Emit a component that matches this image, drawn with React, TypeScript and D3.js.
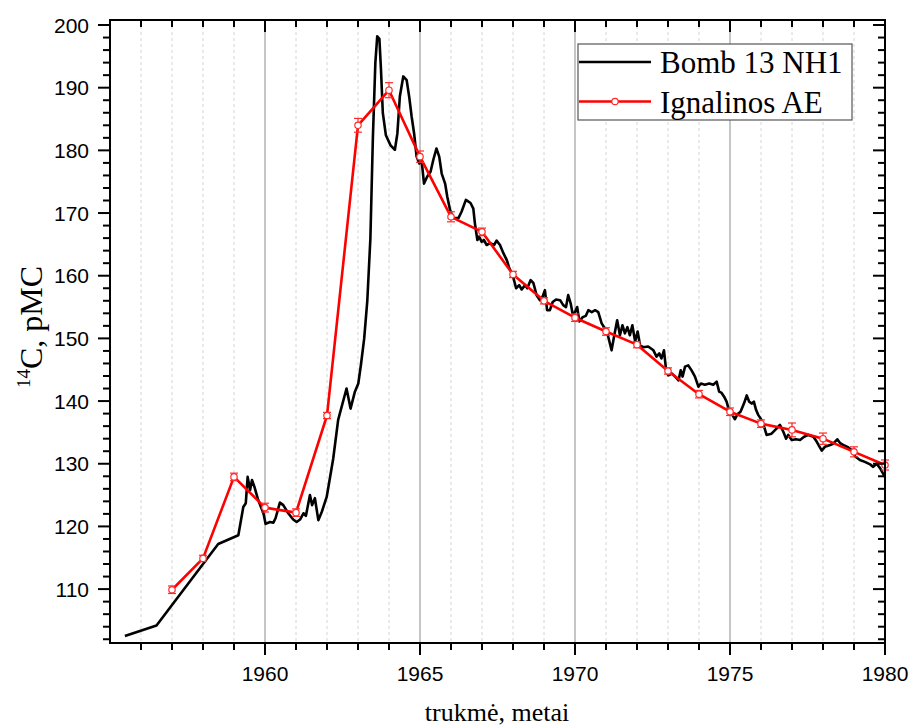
import React from "react";
import * as d3 from "d3";

// Bomb 13 NH1 series (year, pMC)
const bombYears = [
  1955.48, 1956.5, 1958.49, 1959.14, 1959.3, 1959.38, 1959.44, 1959.52, 1959.58, 1959.66, 1959.78, 1959.95,
  1960.02, 1960.16, 1960.27, 1960.34, 1960.48, 1960.59, 1960.75, 1960.91, 1961.02, 1961.13, 1961.24, 1961.32,
  1961.45, 1961.52, 1961.61, 1961.72, 1961.83, 1961.99, 1962.1, 1962.2, 1962.36, 1962.63, 1962.76, 1962.9,
  1963.01, 1963.1, 1963.2, 1963.3, 1963.4, 1963.48, 1963.56, 1963.62, 1963.69, 1963.74, 1963.8, 1963.9,
  1964.05, 1964.19, 1964.27, 1964.35, 1964.46, 1964.57, 1964.65, 1964.73, 1964.81, 1964.89, 1964.98, 1965.05,
  1965.13, 1965.23, 1965.34, 1965.43, 1965.53, 1965.62, 1965.7, 1965.81, 1965.88, 1965.97, 1966.07, 1966.24,
  1966.34, 1966.48, 1966.63, 1966.72, 1966.77, 1966.85, 1966.91, 1966.99, 1967.06, 1967.15, 1967.26, 1967.39,
  1967.47, 1967.58, 1967.69, 1967.8, 1967.88, 1967.99, 1968.1, 1968.2, 1968.28, 1968.39, 1968.46, 1968.57,
  1968.66, 1968.76, 1968.87, 1968.95, 1969.03, 1969.1, 1969.19, 1969.28, 1969.39, 1969.52, 1969.62, 1969.71,
  1969.78, 1969.86, 1969.92, 1970.0, 1970.07, 1970.14, 1970.25, 1970.35, 1970.43, 1970.54, 1970.65, 1970.75,
  1970.86, 1971.0, 1971.07, 1971.18, 1971.26, 1971.36, 1971.45, 1971.53, 1971.61, 1971.69, 1971.77, 1971.85,
  1971.94, 1972.02, 1972.1, 1972.2, 1972.36, 1972.53, 1972.63, 1972.72, 1972.79, 1972.87, 1972.94, 1973.01,
  1973.12, 1973.23, 1973.34, 1973.41, 1973.47, 1973.55, 1973.65, 1973.76, 1973.87, 1973.98, 1974.06, 1974.19,
  1974.33, 1974.46, 1974.57, 1974.65, 1974.73, 1974.81, 1974.89, 1974.98, 1975.05, 1975.16, 1975.24, 1975.34,
  1975.45, 1975.54, 1975.62, 1975.7, 1975.77, 1975.84, 1975.91, 1975.99, 1976.07, 1976.18, 1976.34, 1976.5,
  1976.61, 1976.72, 1976.81, 1976.88, 1976.99, 1977.13, 1977.26, 1977.39, 1977.53, 1977.69, 1977.8, 1977.89,
  1977.96, 1978.06, 1978.23, 1978.33, 1978.46, 1978.55, 1978.65, 1978.82, 1978.92, 1979.03, 1979.19, 1979.35,
  1979.52, 1979.62, 1979.73, 1979.84, 1979.93, 1980.0,
];
const bombValues = [
  102.5, 104.2, 117.2, 118.6, 123.1, 123.7, 127.9, 125.8, 127.4, 126.3, 124.2, 122.1,
  120.4, 120.7, 120.6, 121.3, 123.8, 123.4, 122.1, 121.1, 120.7, 121.1, 122.1, 121.7,
  125.0, 123.4, 124.5, 121.0, 122.3, 124.7, 127.9, 130.8, 137.0, 142.0, 138.8, 141.5,
  142.8, 146.0, 150.0, 156.0, 166.0, 182.0, 194.0, 198.2, 197.8, 193.0, 186.0, 182.4,
  180.8, 180.1, 182.7, 188.6, 191.8, 191.2, 188.6, 185.4, 182.7, 179.0, 177.9, 178.5,
  174.7, 175.8, 176.6, 178.5, 180.3, 179.0, 176.3, 174.7, 172.6, 170.5, 169.2, 169.2,
  170.2, 172.1, 171.6, 170.7, 168.4, 165.7, 166.2, 165.4, 165.7, 164.9, 165.2, 164.9,
  165.6, 164.9, 163.6, 162.5, 161.2, 160.1, 158.0, 158.5, 157.8, 158.5, 158.0, 159.3,
  158.8, 156.9, 156.1, 156.6, 157.7, 154.5, 154.5, 155.8, 156.2, 156.1, 155.3, 155.0,
  156.9, 155.6, 154.0, 154.2, 155.0, 152.7, 153.4, 153.6, 154.5, 154.2, 154.5, 154.2,
  152.4, 151.3, 150.3, 148.1, 150.3, 152.9, 150.5, 152.1, 150.8, 151.8, 150.5, 152.1,
  149.5, 151.1, 148.9, 148.6, 148.7, 148.1, 147.1, 147.6, 146.8, 148.1, 144.9, 144.1,
  144.4, 143.9, 143.3, 144.9, 143.9, 145.5, 145.7, 144.9, 143.9, 142.3, 142.8, 142.6,
  142.8, 142.6, 143.1, 141.5, 141.3, 140.7, 139.9, 138.3, 138.0, 137.1, 137.9, 138.3,
  139.6, 140.9, 139.9, 139.6, 139.9, 138.6, 137.8, 137.2, 136.4, 134.6, 134.8, 135.6,
  136.2, 135.1, 134.0, 134.6, 133.8, 133.9, 133.8, 134.3, 134.6, 134.3, 133.5, 132.7,
  132.1, 132.7, 133.0, 133.2, 133.9, 133.3, 133.0, 132.6, 132.2, 131.2, 130.6, 130.3,
  129.9, 129.5, 130.0, 129.3, 128.5, 127.9,
];

// Ignalinos AE series
const ignYears = [
  1957, 1958, 1959, 1960, 1961, 1962, 1963, 1964, 1965, 1966, 1967, 1968,
  1969, 1970, 1971, 1972, 1973, 1974, 1975, 1976, 1977, 1978, 1979, 1980,
];
const ignValues = [
  109.9, 114.9, 127.9, 123.0, 122.2, 137.7, 184.0, 189.6, 179.0, 169.4, 167.0, 160.2,
  156.0, 153.3, 151.1, 149.0, 144.8, 141.1, 138.3, 136.4, 135.4, 134.0, 131.9, 129.8,
];
const ignErrors = [
  0.6, 0.5, 0.6, 0.7, 0.6, 0.5, 1.1, 1.2, 0.9, 0.8, 0.6, 0.5,
  0.5, 0.6, 0.6, 0.5, 0.5, 0.6, 0.6, 0.6, 1.1, 0.9, 0.8, 0.8,
];

const xMajorTicks = [1960, 1965, 1970, 1975, 1980];
const yMajorTicks = [110, 120, 130, 140, 150, 160, 170, 180, 190, 200];
const seriesNames = ["Bomb 13 NH1", "Ignalinos AE"];
const xTitle = "trukmė, metai";
const yTitleSup = "14";
const yTitleMain = "C, pMC";

const W = 911;
const H = 726;
const L = 110, R = 885, T = 20, B = 643;

export default function App() {
  const x = d3.scaleLinear().domain([1955, 1980]).range([L, R]);
  const y = d3.scaleLinear().domain([101.4, 200.8]).range([B, T]);

  const bomb = bombYears.map((yr, i) => [yr, bombValues[i]] as [number, number]);
  const ign = ignYears.map((yr, i) => [yr, ignValues[i]] as [number, number]);
  const line = d3.line<[number, number]>().x((d) => x(d[0])).y((d) => y(d[1]));

  const yearTicks = d3.range(1956, 1980);
  const minorX = yearTicks.filter((t) => t % 5 !== 0);
  const minorY = d3.range(102, 201, 2).filter((t) => t % 10 !== 0);

  const sans = "'Liberation Sans', Arial, sans-serif";
  const serif = "'Liberation Serif', 'Times New Roman', serif";

  return (
    <svg width={W} height={H} style={{ position: "absolute", left: 0, top: 0, background: "#fff" }}>
      <rect x={0} y={0} width={W} height={H} fill="#fff" />
      {/* grid */}
      {minorX.map((t) => (
        <line key={"g" + t} x1={x(t)} x2={x(t)} y1={T} y2={B} stroke="#d4d4d4" strokeWidth={1} strokeDasharray="3,3" />
      ))}
      {xMajorTicks.filter((t) => t < 1980).map((t) => (
        <line key={"G" + t} x1={x(t)} x2={x(t)} y1={T} y2={B} stroke="#a0a0a0" strokeWidth={1.2} />
      ))}

      {/* series */}
      <path d={line(bomb) || ""} fill="none" stroke="#000" strokeWidth={2.6} strokeLinejoin="round" />
      <path d={line(ign) || ""} fill="none" stroke="#ff0000" strokeWidth={2.6} strokeLinejoin="round" />
      {ign.map((d, i) => (
        <g key={"e" + i} stroke="#ff2a2a" strokeWidth={1.2}>
          <line x1={x(d[0])} x2={x(d[0])} y1={y(d[1] - ignErrors[i])} y2={y(d[1] + ignErrors[i])} />
          <line x1={x(d[0]) - 4} x2={x(d[0]) + 4} y1={y(d[1] - ignErrors[i])} y2={y(d[1] - ignErrors[i])} />
          <line x1={x(d[0]) - 4} x2={x(d[0]) + 4} y1={y(d[1] + ignErrors[i])} y2={y(d[1] + ignErrors[i])} />
        </g>
      ))}
      {ign.map((d, i) => (
        <circle key={"c" + i} cx={x(d[0])} cy={y(d[1])} r={3.2} fill="#fff" stroke="#ff2a2a" strokeWidth={1.2} />
      ))}

      {/* frame */}
      <rect x={L} y={T} width={R - L} height={B - T} fill="none" stroke="#000" strokeWidth={2} />

      {/* x ticks */}
      {minorX.map((t) => (
        <g key={"xm" + t} stroke="#000" strokeWidth={2}>
          <line x1={x(t)} x2={x(t)} y1={B} y2={B + 7} />
          <line x1={x(t)} x2={x(t)} y1={T} y2={T + 7} />
        </g>
      ))}
      {xMajorTicks.map((t) => (
        <g key={"xM" + t}>
          <line x1={x(t)} x2={x(t)} y1={B} y2={B + 12} stroke="#000" strokeWidth={2} />
          <line x1={x(t)} x2={x(t)} y1={T} y2={T + 12} stroke="#000" strokeWidth={2} />
          <text x={x(t)} y={681} textAnchor="middle" fontFamily={sans} fontSize={21} fill="#000">
            {t}
          </text>
        </g>
      ))}

      {/* y ticks */}
      {minorY.map((t) => (
        <g key={"ym" + t} stroke="#000" strokeWidth={2}>
          <line x1={L - 7} x2={L} y1={y(t)} y2={y(t)} />
          <line x1={R - 7} x2={R} y1={y(t)} y2={y(t)} />
        </g>
      ))}
      {yMajorTicks.map((t) => (
        <g key={"yM" + t}>
          <line x1={L - 12} x2={L} y1={y(t)} y2={y(t)} stroke="#000" strokeWidth={2} />
          <line x1={R - 12} x2={R} y1={y(t)} y2={y(t)} stroke="#000" strokeWidth={2} />
          <text x={89} y={y(t) + 7.5} textAnchor="end" fontFamily={sans} fontSize={21} fill="#000">
            {t}
          </text>
        </g>
      ))}

      {/* axis titles */}
      <text x={497} y={721} textAnchor="middle" fontFamily={serif} fontSize={26} fill="#000">
        {xTitle}
      </text>
      <text transform="translate(42,327) rotate(-90)" textAnchor="middle" fontFamily={serif} fill="#000">
        <tspan fontSize={19} dy={-12}>{yTitleSup}</tspan>
        <tspan fontSize={32} dy={12}>{yTitleMain}</tspan>
      </text>

      {/* legend */}
      <rect x={578} y={44} width={274} height={76} fill="#fff" stroke="#555" strokeWidth={1.2} />
      <line x1={579} x2={651} y1={62} y2={62} stroke="#000" strokeWidth={2.6} />
      <line x1={579} x2={651} y1={101.5} y2={101.5} stroke="#ff0000" strokeWidth={2.6} />
      <circle cx={615} cy={101.5} r={3.2} fill="#fff" stroke="#ff2a2a" strokeWidth={1.2} />
      <text x={660} y={73} fontFamily={serif} fontSize={31} fill="#000">{seriesNames[0]}</text>
      <text x={660} y={113} fontFamily={serif} fontSize={31} fill="#000">{seriesNames[1]}</text>
    </svg>
  );
}
